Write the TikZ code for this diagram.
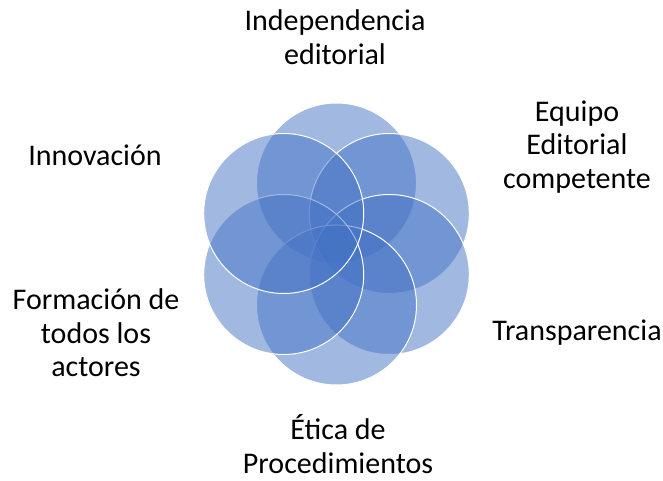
\documentclass[tikz,border=0pt]{standalone}
\usepackage{fontspec}
\setmainfont{Carlito}
\definecolor{vennblue}{HTML}{4472C4}

\begin{document}
\begin{tikzpicture}[x=1pt, y=-1pt,
    venn/.style={draw=white, line width=1pt, fill=vennblue, fill opacity=0.5},
    lbl/.style={align=center, inner sep=0pt, font=\fontsize{30}{33.5}\selectfont}]
    \useasboundingbox (0,0) rectangle (663,481);

    % circles, last one on top
    \draw[venn] (336.5,183) circle (80pt);
    \draw[venn] (389.3,213.5) circle (80pt);
    \draw[venn] (389.3,274.5) circle (80pt);
    \draw[venn] (336.5,305) circle (80pt);
    \draw[venn] (283.7,274.5) circle (80pt);
    \draw[venn] (283.7,213.5) circle (80pt);

    \node[lbl] (indep) at (335,37) {Independencia\\editorial};
    \node[lbl] (equipo) at (577,147) {Equipo\\Editorial\\competente};
    \node[lbl] (transp) at (577,333) {Transparencia};
    \node[lbl] (etica) at (338,444) {Ética de\\Procedimientos};
    \node[lbl] (formac) at (96,333) {Formación de\\todos los\\actores};
    \node[lbl] (innov) at (95,155) {Innovación};
\end{tikzpicture}
\end{document}
